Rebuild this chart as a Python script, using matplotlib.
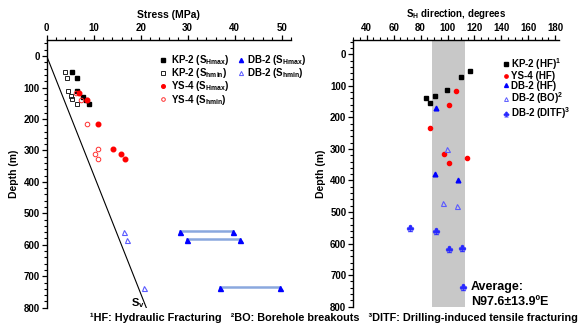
import matplotlib
matplotlib.use("Agg")
import matplotlib.pyplot as plt
from matplotlib.lines import Line2D

plt.rcParams["font.family"] = ["Liberation Sans", "DejaVu Sans"]
plt.rcParams["font.weight"] = "bold"
plt.rcParams["mathtext.fontset"] = "custom"
plt.rcParams["mathtext.rm"] = "Liberation Sans:bold"
plt.rcParams["mathtext.bf"] = "Liberation Sans:bold"
plt.rcParams["mathtext.default"] = "bf"

# ── Left panel data: stress vs depth ─────────────────────────────────────────
kp2_depth = [52, 69, 110, 130, 140, 154]
kp2_shmax = [5.3, 6.5, 6.4, 7.7, 8.4, 9.0]
kp2_shmin_depth = [52, 69, 110, 127, 137, 154]
kp2_shmin = [3.9, 4.4, 4.6, 5.1, 5.4, 6.4]

ys4_depth = [119, 140, 216, 297, 310, 326]
ys4_shmax = [6.9, 8.5, 11.0, 14.2, 15.9, 16.7]
ys4_shmin = [6.2, 7.3, 8.6, 10.9, 10.3, 10.9]

db2_depth = [560, 585, 738]
db2_shmin = [16.4, 17.0, 20.8]
db2_shmax_lo = [28.4, 29.8, 36.9]
db2_shmax_hi = [39.7, 41.1, 49.6]

sv_depth = [0, 800]
sv_stress = [0.0, 21.2]

# ── Right panel data: SH direction vs depth ──────────────────────────────────
kp2_hf_depth = [53, 72, 112, 131, 138, 156]
kp2_hf_dir = [116.8, 109.8, 99.7, 90.8, 84.1, 87.1]
ys4_hf_depth = [118, 162, 235, 316, 329, 346]
ys4_hf_dir = [106.4, 100.9, 86.8, 97.7, 114.3, 101.4]
db2_hf_depth = [170, 378, 397]
db2_hf_dir = [91.6, 91.0, 107.6]
db2_bo_depth = [301, 473, 481]
db2_bo_dir = [99.4, 96.5, 107.1]
db2_ditf_depth = [552, 560, 618, 615, 737]
db2_ditf_dir = [72.5, 91.6, 101.4, 110.6, 111.3]
band_lo, band_hi = 88.6, 113.0

W, H = 579, 329
fig = plt.figure(figsize=(W / 100, H / 100), dpi=100)


def px_axes(x0, x1, y0, y1):
    return fig.add_axes([x0 / W, 1 - y1 / H, (x1 - x0) / W, (y1 - y0) / H])


def style(ax):
    ax.xaxis.tick_top()
    ax.xaxis.set_label_position("top")
    ax.spines["right"].set_visible(False)
    ax.spines["bottom"].set_visible(False)
    for s in ("left", "top"):
        ax.spines[s].set_linewidth(1.0)
    ax.tick_params(axis="both", which="major", direction="out", length=3.5,
                   width=0.9, labelsize=7, pad=1.5)
    ax.tick_params(axis="both", which="minor", direction="out", length=2, width=0.8)
    ax.minorticks_on()
    for lbl in ax.get_xticklabels() + ax.get_yticklabels():
        lbl.set_fontweight("bold")


BLUE = "#0000ff"
BLUE_OPEN = "#5a5aff"
CLUB = "$\u2663$"

# ── Left panel ───────────────────────────────────────────────────────────────
ax1 = px_axes(46.7, 291, 40, 307.7)
ax1.plot(sv_stress, sv_depth, color="black", lw=0.8)
for lo, hi, d in zip(db2_shmax_lo, db2_shmax_hi, db2_depth):
    ax1.plot([lo, hi], [d - 4, d - 4], color="#8aa8de", lw=1.8, zorder=2)
ax1.plot(db2_shmax_lo + db2_shmax_hi, db2_depth + db2_depth, "^", color=BLUE,
         ms=3.6, ls="none", zorder=3)
ax1.plot(db2_shmin, db2_depth, "^", mfc="none", mec=BLUE_OPEN, mew=0.8, ms=3.6, ls="none")
ax1.plot(kp2_shmin, kp2_shmin_depth, "s", mfc="none", mec="#222222", mew=0.7, ms=3.0, ls="none")
ax1.plot(kp2_shmax, kp2_depth, "s", color="black", ms=3.2, ls="none")
ax1.plot(ys4_shmin, ys4_depth, "o", mfc="none", mec="#ff3030", mew=0.7, ms=3.3, ls="none")
ax1.plot(ys4_shmax, ys4_depth, "o", color="#ff0000", ms=3.3, ls="none")
ax1.text(18.0, 786, "S$_{\\mathbf{v}}$", fontsize=8, ha="left", va="center")
ax1.set_xlim(0, 52)
ax1.set_ylim(800, -51)
ax1.set_xticks(range(0, 51, 10))
ax1.set_yticks(range(0, 801, 100))
ax1.set_xlabel("Stress (MPa)", fontsize=7.5, fontweight="bold", labelpad=4)
ax1.set_ylabel("Depth (m)", fontsize=7.5, fontweight="bold", labelpad=3)
style(ax1)

h1 = [Line2D([], [], marker="s", color="black", ms=2.4, ls="none"),
      Line2D([], [], marker="s", mfc="none", mec="#222222", mew=0.7, ms=2.4, ls="none"),
      Line2D([], [], marker="o", color="#ff0000", ms=2.6, ls="none"),
      Line2D([], [], marker="o", mfc="none", mec="#ff3030", mew=0.7, ms=2.6, ls="none")]
l1 = ["KP-2 (S$_{\\mathbf{Hmax}}$)", "KP-2 (S$_{\\mathbf{hmin}}$)",
      "YS-4 (S$_{\\mathbf{Hmax}}$)", "YS-4 (S$_{\\mathbf{hmin}}$)"]
h2 = [Line2D([], [], marker="^", color=BLUE, ms=3.0, ls="none"),
      Line2D([], [], marker="^", mfc="none", mec=BLUE_OPEN, mew=0.7, ms=3.0, ls="none")]
l2 = ["DB-2 (S$_{\\mathbf{Hmax}}$)", "DB-2 (S$_{\\mathbf{hmin}}$)"]
leg_kw = dict(frameon=False, fontsize=7, handlelength=0.7, handletextpad=0.45,
              borderpad=0, borderaxespad=0, labelspacing=-0.08, loc="upper left")
fig.legend(h1, l1, bbox_to_anchor=(160 / W, 1 - 53 / H), **leg_kw)
fig.legend(h2, l2, bbox_to_anchor=(238 / W, 1 - 53 / H),
           **{**leg_kw, "handletextpad": 0.2})

# ── Right panel ──────────────────────────────────────────────────────────────
ax2 = px_axes(353.3, 559.2, 40, 306.7)
ax2.axvspan(band_lo, band_hi, color="#c8c8c8", zorder=0, lw=0)
ax2.plot(kp2_hf_dir, kp2_hf_depth, "s", color="black", ms=2.7, ls="none")
ax2.plot(ys4_hf_dir, ys4_hf_depth, "o", color="#ff0000", ms=3.0, ls="none")
ax2.plot(db2_hf_dir, db2_hf_depth, "^", color=BLUE, ms=3.4, ls="none")
ax2.plot(db2_bo_dir, db2_bo_depth, "^", mfc="none", mec=BLUE_OPEN, mew=0.8, ms=3.6, ls="none")
ax2.plot(db2_ditf_dir, db2_ditf_depth, marker=CLUB, color="#2828ff", ms=5.0,
         mew=0.3, ls="none")
ax2.text(117.5, 762, "Average:\nN97.6\u00b113.9\u00baE", fontsize=9, fontweight="bold",
         ha="left", va="center", linespacing=1.3)
ax2.set_xlim(30, 183)
ax2.set_ylim(800, -45)
ax2.set_xticks(range(40, 181, 20))
ax2.set_yticks(range(0, 801, 100))
ax2.set_xlabel("S$_{\\mathbf{H}}$ direction, degrees", fontsize=7, fontweight="bold", labelpad=4)
ax2.set_ylabel("Depth (m)", fontsize=7.5, fontweight="bold", labelpad=3)
style(ax2)

h3 = [Line2D([], [], marker="s", color="black", ms=2.2, ls="none"),
      Line2D([], [], marker="o", color="#ff0000", ms=2.4, ls="none"),
      Line2D([], [], marker="^", color=BLUE, ms=2.8, ls="none"),
      Line2D([], [], marker="^", mfc="none", mec=BLUE_OPEN, mew=0.7, ms=2.8, ls="none"),
      Line2D([], [], marker=CLUB, color="#2828ff", ms=3.8, mew=0.3, ls="none")]
l3 = ["KP-2 (HF)$^{\\mathbf{1}}$", "YS-4 (HF)", "DB-2 (HF)",
      "DB-2 (BO)$^{\\mathbf{2}}$", "DB-2 (DITF)$^{\\mathbf{3}}$"]
fig.legend(h3, l3, bbox_to_anchor=(504 / W, 1 - 56 / H), frameon=False, fontsize=7,
           handlelength=0.5, handletextpad=0.25, borderpad=0, borderaxespad=0,
           labelspacing=-0.05, loc="upper left")

fig.text(90 / W, 1 - 318 / H,
         "\u00b9HF: Hydraulic Fracturing   \u00b2BO: Borehole breakouts   "
         "\u00b3DITF: Drilling-induced tensile fracturing",
         fontsize=7.8, fontweight="bold", ha="left", va="center")

fig.savefig("out.png", dpi=100)
